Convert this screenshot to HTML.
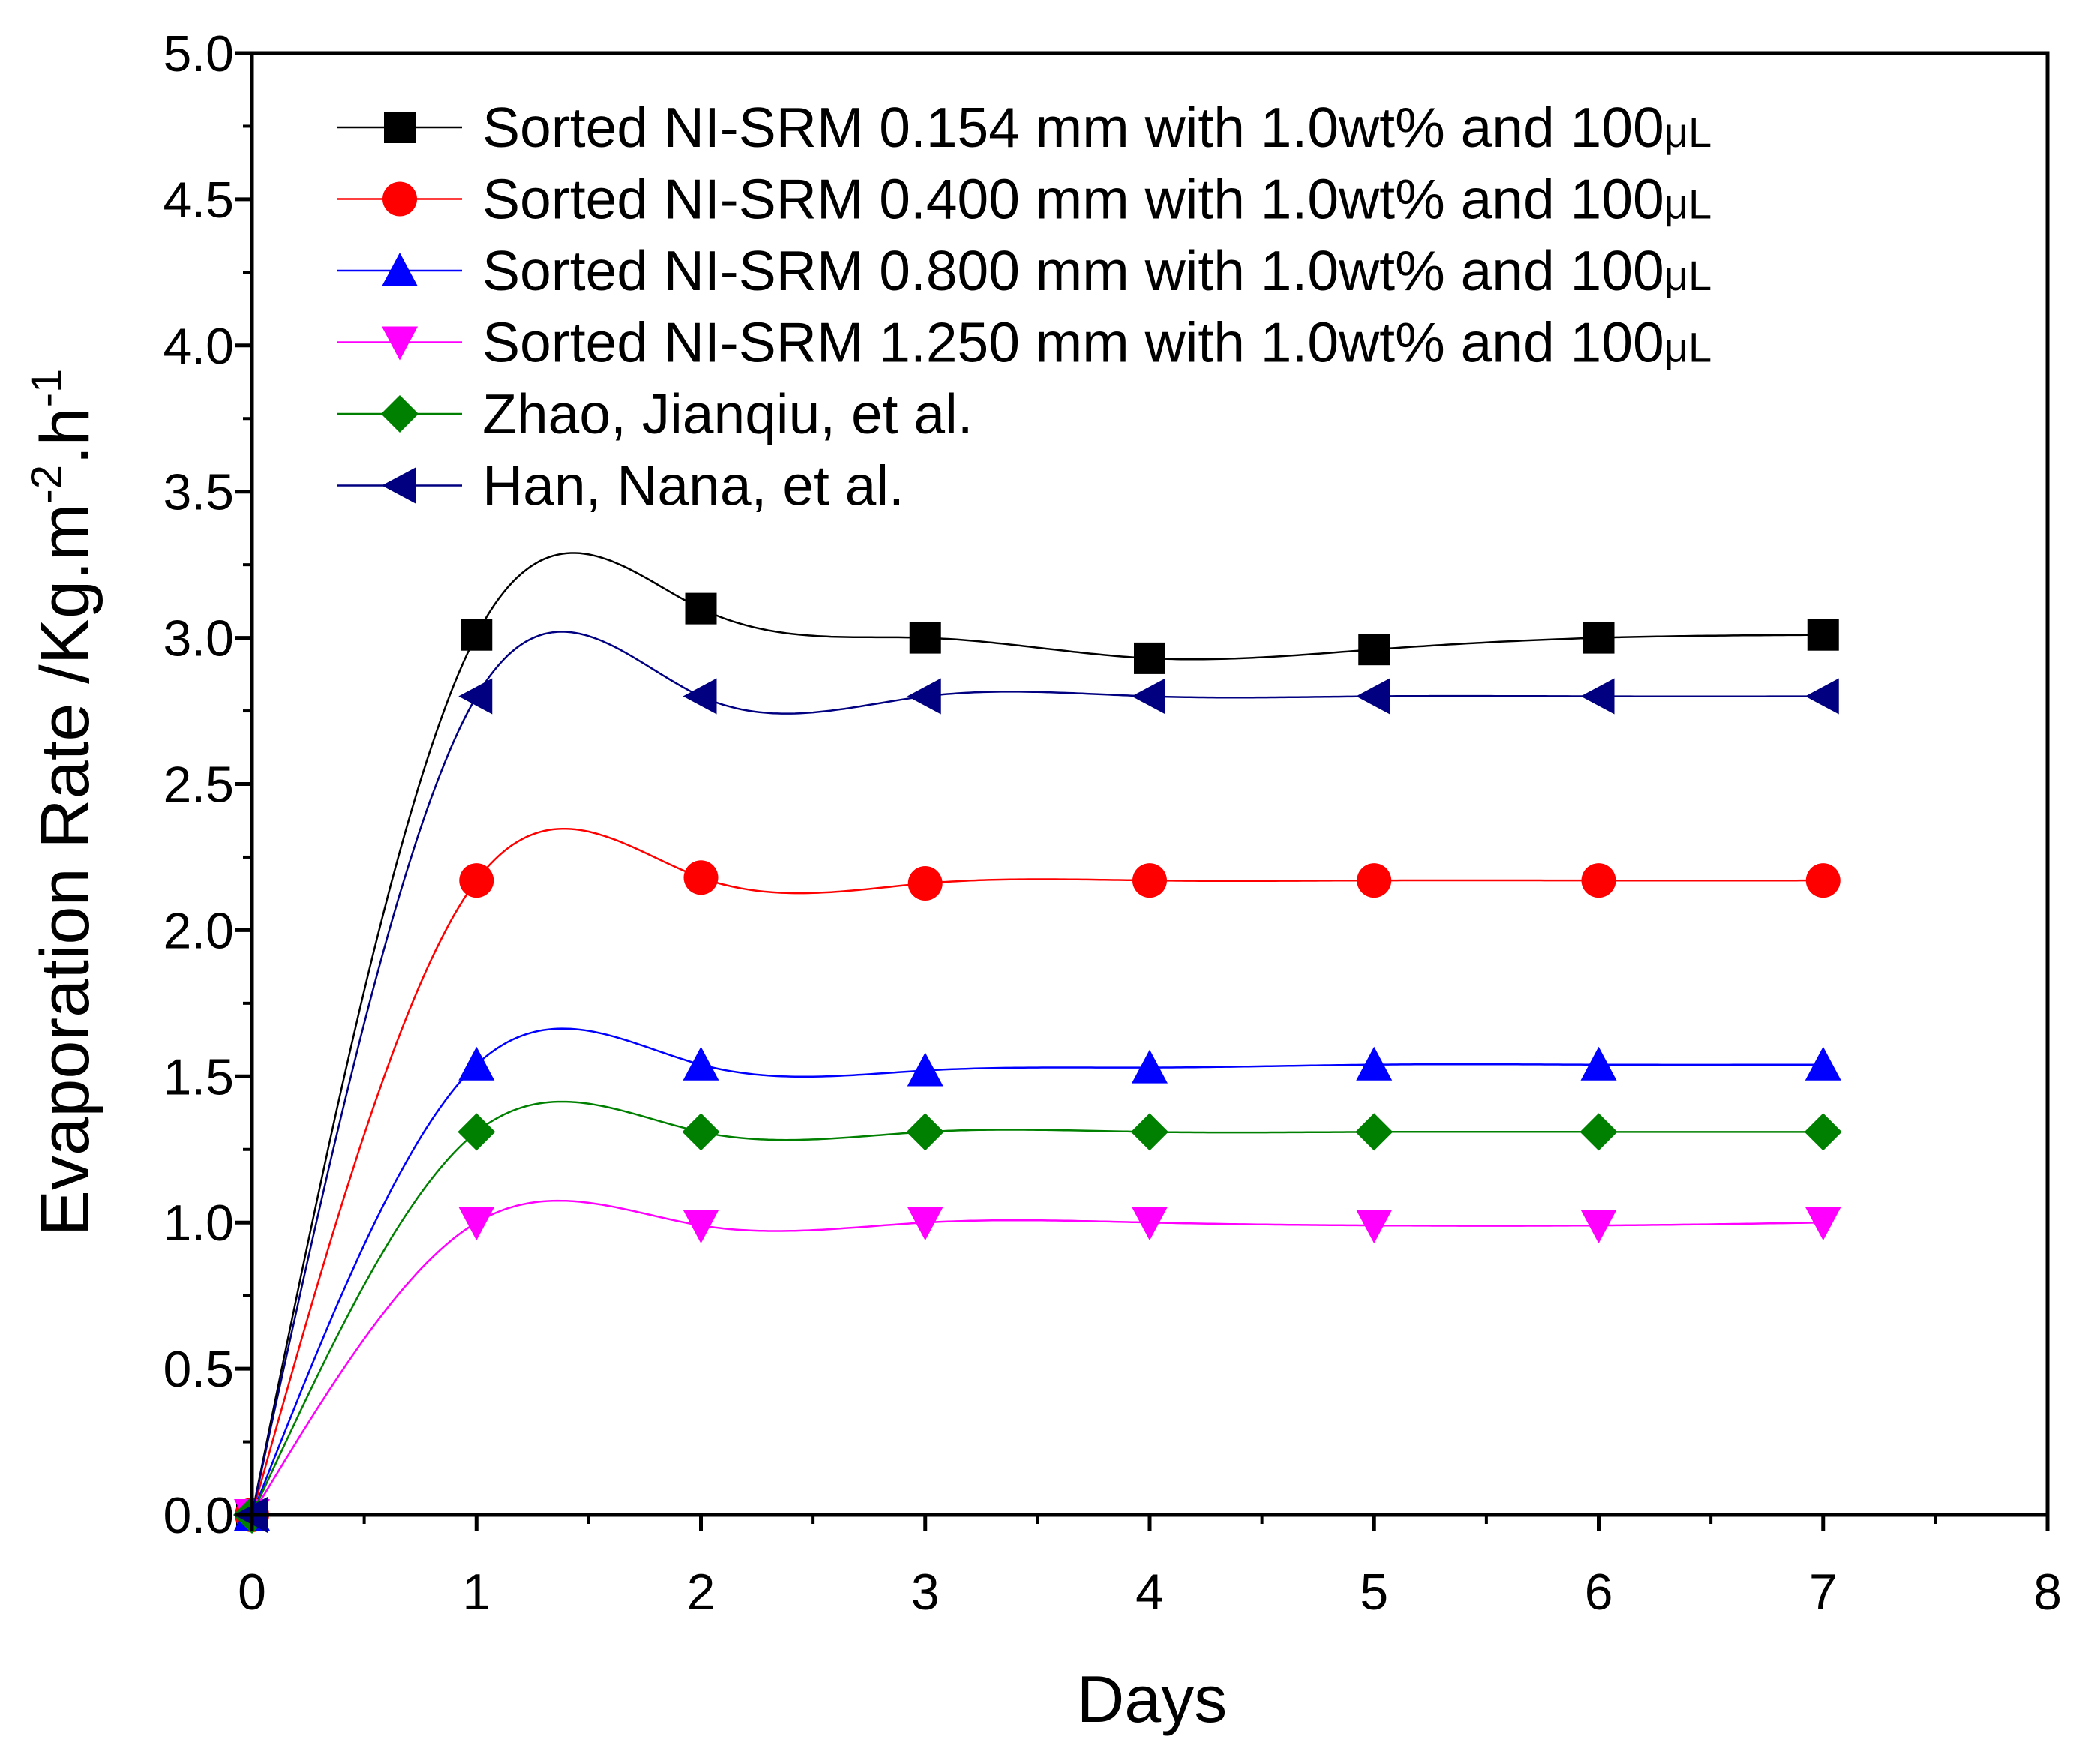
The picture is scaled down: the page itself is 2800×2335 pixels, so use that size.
<!DOCTYPE html>
<html><head><meta charset="utf-8"><style>
html,body{margin:0;padding:0;background:#fff}
svg{display:block;font-family:"Liberation Sans",Arial,sans-serif}
</style></head><body>
<svg id="chart" width="2800" height="2335" viewBox="0 0 2800 2335" xmlns="http://www.w3.org/2000/svg">
<g id="grid"></g>
<g id="series"></g>
<g id="axes"></g>
<g id="legend"></g>
</svg>
<script>
const days = [0,1,2,3,4,5,6,7];
const s154 = [0,3.01,3.10,3.00,2.93,2.96,3.00,3.01];
const s400 = [0,2.17,2.18,2.16,2.17,2.17,2.17,2.17];
const s800 = [0,1.54,1.54,1.52,1.53,1.54,1.54,1.54];
const s1250 = [0,1.00,0.99,1.00,1.00,0.99,0.99,1.00];
const zhao = [0,1.31,1.31,1.31,1.31,1.31,1.31,1.31];
const han = [0,2.80,2.80,2.80,2.80,2.80,2.80,2.80];
const xTicks = [0,1,2,3,4,5,6,7,8];
const yTicks = [0,0.5,1,1.5,2,2.5,3,3.5,4,4.5,5];
const legendLabels = ["Sorted NI-SRM 0.154 mm with 1.0wt% and 100","Sorted NI-SRM 0.400 mm with 1.0wt% and 100","Sorted NI-SRM 0.800 mm with 1.0wt% and 100","Sorted NI-SRM 1.250 mm with 1.0wt% and 100","Zhao, Jianqiu, et al.","Han, Nana, et al."];

const L=336,R=2730,T=71,B=2020;
const X=v=>L+(v/8)*(R-L);
const Y=v=>B-(v/5)*(B-T);
const NS="http://www.w3.org/2000/svg";
function mk(tag,attrs,parent){const e=document.createElementNS(NS,tag);for(const k in attrs)e.setAttribute(k,attrs[k]);parent.appendChild(e);return e;}

const series=[
 {d:s154,c:"#000000",m:"square",n:"series-0154mm"},
 {d:s400,c:"#ff0000",m:"circle",n:"series-0400mm"},
 {d:s800,c:"#0000ff",m:"up",n:"series-0800mm"},
 {d:s1250,c:"#ff00ff",m:"down",n:"series-1250mm"},
 {d:zhao,c:"#008000",m:"diamond",n:"series-zhao"},
 {d:han,c:"#000080",m:"left",n:"series-han"}
];

function spline(xs,ys){
 const n=xs.length,h=[],a=[],l=[1],mu=[0],z=[0],c=new Array(n).fill(0),b=[],d=[];
 for(let i=0;i<n-1;i++)h.push(xs[i+1]-xs[i]);
 for(let i=1;i<n-1;i++)a[i]=3/h[i]*(ys[i+1]-ys[i])-3/h[i-1]*(ys[i]-ys[i-1]);
 for(let i=1;i<n-1;i++){l[i]=2*(xs[i+1]-xs[i-1])-h[i-1]*mu[i-1];mu[i]=h[i]/l[i];z[i]=(a[i]-h[i-1]*z[i-1])/l[i];}
 for(let j=n-2;j>=0;j--){c[j]=(j>0?z[j]:0)-mu[j]*c[j+1];b[j]=(ys[j+1]-ys[j])/h[j]-h[j]*(c[j+1]+2*c[j])/3;d[j]=(c[j+1]-c[j])/(3*h[j]);}
 return t=>{let j=Math.min(Math.floor(t),n-2);const dx=t-xs[j];return ys[j]+b[j]*dx+c[j]*dx*dx+d[j]*dx*dx*dx;};
}
function marker(type,cx,cy,col,g){
 const s=21;let e;
 if(type=="square")e=mk("rect",{x:cx-s,y:cy-s,width:2*s,height:2*s,fill:col},g);
 else if(type=="circle")e=mk("circle",{cx:cx,cy:cy,r:s+2,fill:col},g);
 else{let p;
  if(type=="up")p=[[0,-s-3],[s+3,s],[-s-3,s]];
  else if(type=="down")p=[[0,s+3],[s+3,-s],[-s-3,-s]];
  else if(type=="diamond")p=[[0,-s-4],[s+4,0],[0,s+4],[-s-4,0]];
  else p=[[-s-3,0],[s,-s-3],[s,s+3]];
  e=mk("polygon",{points:p.map(q=>(cx+q[0])+","+(cy+q[1])).join(" "),fill:col},g);}
 return e;
}
const sg=document.getElementById("series");
series.forEach(s=>{
 const g=mk("g",{},sg);
 
 
 const f=spline(days,s.d);let pts=[];
 for(let t=0;t<=7.0001;t+=0.02)pts.push(X(t).toFixed(1)+","+Y(f(t)).toFixed(1));
 const ln=mk("polyline",{points:pts.join(" "),fill:"none",stroke:s.c,"stroke-width":2.5},g);
 
 
 days.forEach((d,i)=>{const m=marker(s.m,X(d),Y(s.d[i]),s.c,g);
  
  });
});

const ag=document.getElementById("axes");
const frame=mk("rect",{x:L,y:T,width:R-L,height:B-T,fill:"none",stroke:"#000","stroke-width":5},ag);


xTicks.forEach(v=>{
 mk("line",{x1:X(v),y1:B,x2:X(v),y2:B+22,stroke:"#000","stroke-width":5},ag);
 if(v<8)mk("line",{x1:X(v+0.5),y1:B,x2:X(v+0.5),y2:B+12,stroke:"#000","stroke-width":4},ag);
 const t=mk("text",{x:X(v),y:2146,"font-size":68,"text-anchor":"middle"},ag);t.textContent=v;
 
 
});
yTicks.forEach(v=>{
 mk("line",{x1:L,y1:Y(v),x2:L-22,y2:Y(v),stroke:"#000","stroke-width":5},ag);
 if(v<5)mk("line",{x1:L,y1:Y(v+0.25),x2:L-12,y2:Y(v+0.25),stroke:"#000","stroke-width":4},ag);
 const t=mk("text",{x:312,y:Y(v)+24,"font-size":68,"text-anchor":"end"},ag);t.textContent=v.toFixed(1);
 
 
});
const xt=mk("text",{x:1536,y:2296,"font-size":88,"text-anchor":"middle"},ag);xt.textContent="Days";


const yt=mk("text",{x:0,y:0,"font-size":92,"text-anchor":"middle",transform:"translate(118,1070) rotate(-90)"},ag);


yt.innerHTML='Evaporation Rate /Kg.m<tspan dy="-36" font-size="58">-2</tspan><tspan dy="36">.h</tspan><tspan dy="-36" font-size="58">-1</tspan>';

const lg=document.getElementById("legend");
series.forEach((s,i)=>{
 const y=170+i*95.5;
 const g=mk("g",{},lg);
 
 
 mk("line",{x1:450,y1:y,x2:616,y2:y,stroke:s.c,"stroke-width":2.5},g);
 marker(s.m,533,y,s.c,g);
 const t=mk("text",{x:643,y:y+26,"font-size":75},g);
 t.textContent=legendLabels[i];
 if(i<4){const u=mk("tspan",{"font-size":56},t);u.textContent="\u03bcL";}
});
</script>
</body></html>
